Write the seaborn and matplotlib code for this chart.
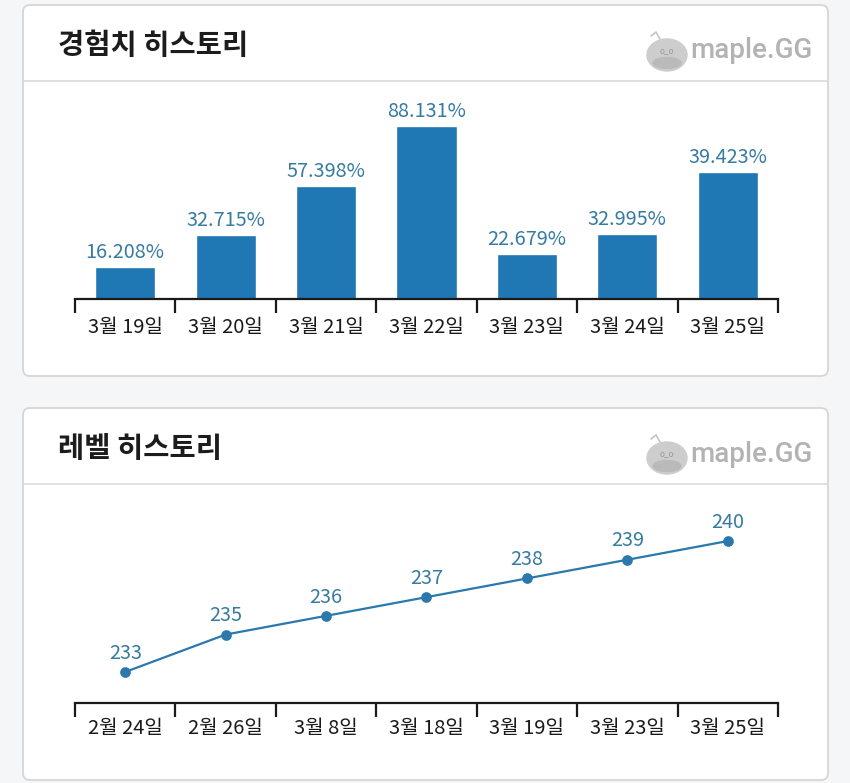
import matplotlib
matplotlib.use("Agg")
import numpy as np
import matplotlib.pyplot as plt
import seaborn as sns
from matplotlib.patches import FancyBboxPatch, Ellipse

# ---------------------------------------------------------------
# data
# ---------------------------------------------------------------
exp_dates = ["3월 19일", "3월 20일", "3월 21일", "3월 22일", "3월 23일", "3월 24일", "3월 25일"]
exp_values = [16.208, 32.715, 57.398, 88.131, 22.679, 32.995, 39.423]
# bar heights as drawn in the picture (last bar is drawn taller than its label)
exp_bar_heights = [16.208, 32.715, 57.398, 88.131, 22.679, 32.995, 64.7]

level_dates = ["2월 24일", "2월 26일", "3월 8일", "3월 18일", "3월 19일", "3월 23일", "3월 25일"]
level_values = [233, 235, 236, 237, 238, 239, 240]

BAR_COLOR = "#1f77b4"
LINE_COLOR = "#2b78ad"
LABEL_COLOR = "#377ba0"

sns.set_style("white")
plt.rcParams["font.family"] = ["Noto Sans CJK KR", "DejaVu Sans"]

W, H = 850, 783
fig = plt.figure(figsize=(8.5, 7.83), dpi=100, facecolor="#f5f6f8")

# background layer in pixel coords for the cards
bg = fig.add_axes([0, 0, 1, 1])
bg.set_xlim(0, W)
bg.set_ylim(H, 0)
bg.axis("off")


def card(y0, y1, title):
    bg.add_patch(FancyBboxPatch((23, y0), 805, y1 - y0,
                                boxstyle="round,pad=0,rounding_size=7",
                                fc="white", ec="#d6d6d6", lw=1.3))
    bg.plot([23, 828], [y0 + 76, y0 + 76], color="#dadada", lw=1.2)
    bg.text(58, y0 + 41, title, fontsize=20.5, fontweight="bold",
            va="center", color="#1c1c1c")
    # maple.GG logo
    bg.add_patch(Ellipse((667, y0 + 50), 40, 32, color="#cdcdcd"))
    bg.add_patch(Ellipse((667, y0 + 58), 28, 11, color="#bababa"))
    bg.plot([660, 656, 651], [y0 + 34, y0 + 27, y0 + 31], color="#c4c4c4", lw=1.2)
    bg.text(667, y0 + 46, "o_o", fontsize=6, color="#9a9a9a", ha="center", va="center")
    bg.text(690, y0 + 46, "maple.GG", fontsize=20, fontweight="medium",
            color="#b3b3b3", va="center", family=["Roboto", "DejaVu Sans"])


card(5, 376, "경험치 히스토리")
card(408, 780, "레벨 히스토리")


def ax_rect(x0, y_top, x1, y_bottom):
    return [x0 / W, 1 - y_bottom / H, (x1 - x0) / W, (y_bottom - y_top) / H]


def style_axis(ax, n, pad):
    ax.set_facecolor("none")
    ax.set_xlim(-0.5, n - 0.5)
    for s in ["top", "left", "right"]:
        ax.spines[s].set_visible(False)
    ax.spines["bottom"].set_color("#1a1a1a")
    ax.spines["bottom"].set_linewidth(1.6)
    ax.set_yticks([])
    ax.set_xticks(np.arange(-0.5, n), minor=True)
    ax.tick_params(axis="x", which="minor", bottom=True, length=10, width=1.6,
                   color="#1a1a1a", direction="out")
    ax.tick_params(axis="x", which="major", bottom=False, length=0, pad=pad,
                   labelsize=14.5, labelcolor="#1a1a1a")
    ax.set_xlabel("")
    ax.set_ylabel("")


# ---------------------------------------------------------------
# experience history (bar)
# ---------------------------------------------------------------
ax1 = fig.add_axes(ax_rect(75, 102.7, 778, 299))
sns.barplot(x=exp_dates, y=exp_bar_heights, color=BAR_COLOR, saturation=1, width=0.6, ax=ax1)
ax1.set_ylim(0, 100)
style_axis(ax1, len(exp_dates), 13)
for i, (v, h) in enumerate(zip(exp_values, exp_bar_heights)):
    ax1.annotate(f"{v:.3f}%", (i, h), xytext=(0, 3), textcoords="offset points",
                 ha="center", va="bottom", fontsize=14.3, color=LABEL_COLOR)

# ---------------------------------------------------------------
# level history (line)
# ---------------------------------------------------------------
ax2 = fig.add_axes(ax_rect(75, 510, 778, 703))
sns.pointplot(x=level_dates, y=level_values, color=LINE_COLOR, markersize=6.5,
              linewidth=1.6, ax=ax2)
ax2.set_ylim(231.34, 241.66)
style_axis(ax2, len(level_dates), 11)
for i, v in enumerate(level_values):
    ax2.annotate(str(v), (i, v), xytext=(0, 6), textcoords="offset points",
                 ha="center", va="bottom", fontsize=14.3, color=LABEL_COLOR)

fig.savefig("out.png", dpi=100, facecolor=fig.get_facecolor())
